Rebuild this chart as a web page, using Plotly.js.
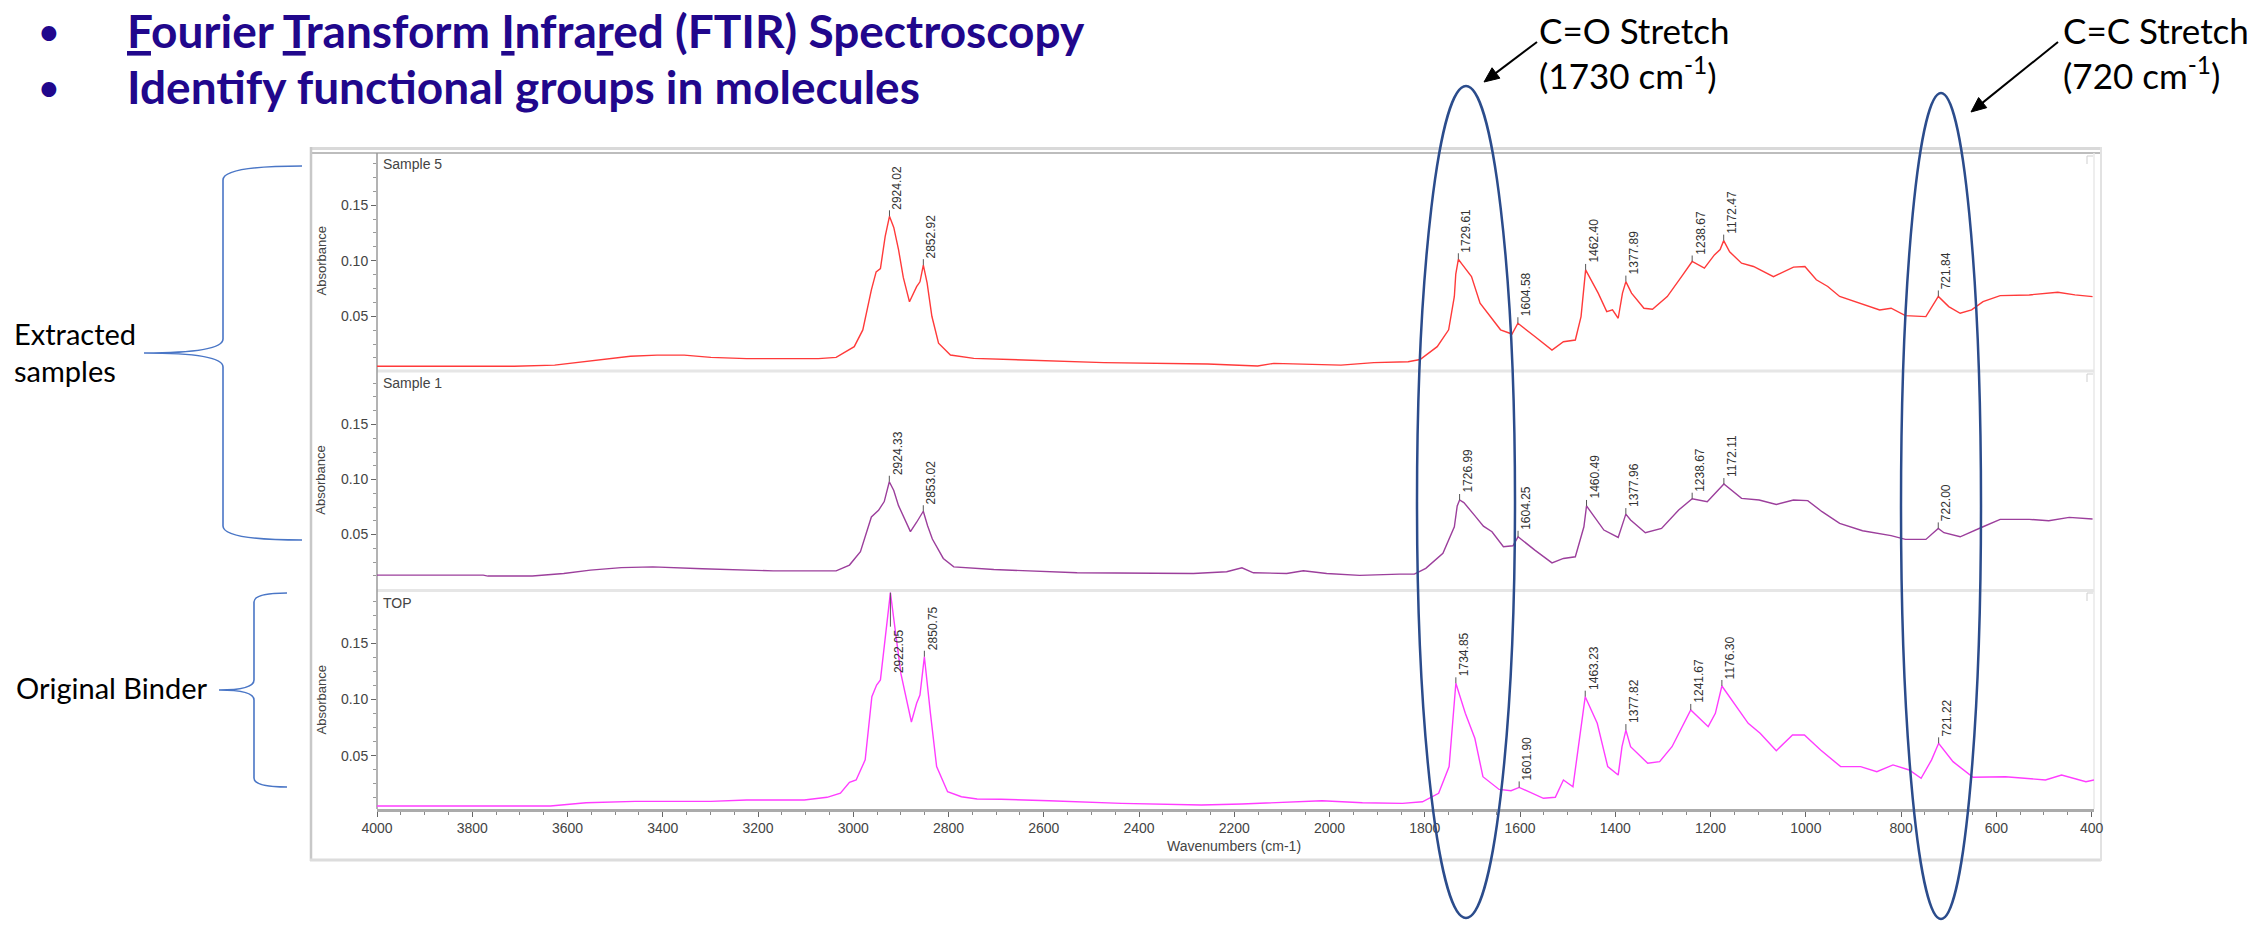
<!DOCTYPE html>
<html><head><meta charset="utf-8">
<script src="https://cdn.plot.ly/plotly-3.0.1.min.js"></script>
<style>html,body{margin:0;padding:0;background:#fff;} #chart{width:2259px;height:925px;}</style>
</head><body><div id="chart"></div>
<script>
// ---------------- DATA ----------------
const sample5Name = 'Sample 5';
const sample5Wn = [
 4000,3800,3712,3627,3552,3468,3412,3355,3299,3224,
 3073,3036,2998,2980,2962,2952,2943,2933,2924.02,2915,
 2905,2895,2882,2867,2860,2852.92,2845,2835,2821,2796,
 2747,2621,2474,2256,2151,2117,2046,1976,1907,1835,
 1810,1774,1750,1738,1735,1729.61,1722,1712,1702,1684,
 1665,1641,1617,1604.58,1569,1533,1509,1484,1472,1462.40,
 1436,1418,1406,1394,1385,1377.89,1366,1340,1322,1291,
 1261,1238.67,1213,1192,1180,1172.47,1160,1135,1110,1068,
 1026,1002,978,954,929,893,845,821,791,748,
 721.84,700,676,652,628,592,531,471,435,398];
const sample5Abs = [
 0.0050,0.0050,0.0050,0.0060,0.0100,0.0140,0.0150,0.0150,0.0130,0.0118,
 0.0118,0.0130,0.0226,0.0377,0.0737,0.0900,0.0930,0.1220,0.1400,0.1300,
 0.1100,0.0850,0.0630,0.0767,0.0810,0.0960,0.0800,0.0500,0.0257,0.0151,
 0.0121,0.0106,0.0082,0.0070,0.0052,0.0076,0.0067,0.0060,0.0082,0.0090,
 0.0110,0.0226,0.0378,0.0678,0.0880,0.1013,0.0970,0.0910,0.0857,0.0617,
 0.0512,0.0378,0.0340,0.0437,0.0317,0.0196,0.0270,0.0286,0.0497,0.0917,
 0.0708,0.0542,0.0557,0.0482,0.0708,0.0812,0.0708,0.0572,0.0563,0.0677,
 0.0857,0.0993,0.0933,0.1052,0.1100,0.1181,0.1080,0.0978,0.0948,0.0857,
 0.0942,0.0948,0.0828,0.0768,0.0678,0.0624,0.0557,0.0572,0.0506,0.0497,
 0.0678,0.0587,0.0527,0.0557,0.0632,0.0686,0.0692,0.0716,0.0692,0.0677];
const sample5Peaks = ['2924.02','2852.92','1729.61','1604.58','1462.40','1377.89','1238.67','1172.47','721.84'];

const sample1Name = 'Sample 1';
const sample1Wn = [
 4000,3777,3767,3674,3608,3552,3487,3421,3317,3252,
 3168,3036,3008,2985,2962,2947,2935,2924.33,2915,2905,
 2880,2867,2853.02,2844,2834,2811,2789,2705,2530,2286,
 2216,2184,2160,2090,2055,2006,1937,1853,1822,1798,
 1762,1738,1732,1726.99,1718,1696,1677,1659,1635,1615,
 1604.25,1569,1533,1509,1484,1466,1460.49,1424,1394,1377.96,
 1368,1337,1303,1267,1238.67,1207,1172.11,1135,1098,1062,
 1026,996,966,929,881,821,791,748,722.00,710,
 676,628,592,531,490,447,398];
const sample1Abs = [
 0.0132,0.0132,0.0123,0.0123,0.0147,0.0177,0.0200,0.0207,0.0190,0.0180,
 0.0170,0.0170,0.0223,0.0344,0.0660,0.0720,0.0800,0.0980,0.0900,0.0763,
 0.0527,0.0612,0.0712,0.0580,0.0460,0.0283,0.0207,0.0183,0.0153,0.0147,
 0.0162,0.0198,0.0153,0.0147,0.0171,0.0147,0.0129,0.0141,0.0141,0.0193,
 0.0329,0.0571,0.0760,0.0814,0.0790,0.0677,0.0577,0.0526,0.0389,0.0398,
 0.0480,0.0359,0.0243,0.0283,0.0298,0.0571,0.0760,0.0541,0.0474,0.0686,
 0.0632,0.0517,0.0556,0.0723,0.0826,0.0798,0.0959,0.0829,0.0814,0.0774,
 0.0814,0.0808,0.0708,0.0602,0.0535,0.0490,0.0456,0.0456,0.0556,0.0517,
 0.0480,0.0571,0.0638,0.0638,0.0626,0.0656,0.0641];
const sample1Peaks = ['2924.33','2853.02','1726.99','1604.25','1460.49','1377.96','1238.67','1172.11','722.00'];

const topName = 'TOP';
const topWn = [
 4000,3636,3561,3458,3299,3224,3103,3055,3027,3008,
 2994,2975,2961,2951,2943,2933,2922.05,2912,2900,2878,
 2867,2860,2850.75,2838,2825,2802,2773,2740,2690,2589,
 2437,2269,2184,2016,1931,1847,1805,1771,1749,1734.85,
 1715,1695,1678,1644,1619,1601.90,1551,1526,1509,1489,
 1472,1463.23,1438,1416,1394,1386,1377.82,1368,1332,1307,
 1281,1256,1241.67,1205,1190,1176.30,1146,1121,1096,1062,
 1028,1003,969,927,885,851,817,783,758,736,
 721.22,691,649,581,497,463,412,395];
const topAbs = [
 0.0053,0.0053,0.0082,0.0094,0.0094,0.0106,0.0106,0.0130,0.0166,0.0263,
 0.0284,0.0463,0.1025,0.1129,0.1174,0.1530,0.1950,0.1619,0.1230,0.0800,
 0.0966,0.1040,0.1380,0.0877,0.0403,0.0180,0.0135,0.0115,0.0113,0.0099,
 0.0076,0.0062,0.0070,0.0099,0.0082,0.0076,0.0090,0.0165,0.0403,0.1144,
 0.0877,0.0655,0.0313,0.0200,0.0189,0.0218,0.0121,0.0130,0.0284,0.0224,
 0.0728,0.1025,0.0788,0.0403,0.0328,0.0580,0.0728,0.0580,0.0433,0.0447,
 0.0580,0.0788,0.0907,0.0758,0.0877,0.1120,0.0937,0.0788,0.0699,0.0545,
 0.0684,0.0684,0.0551,0.0403,0.0403,0.0358,0.0418,0.0373,0.0299,0.0463,
 0.0610,0.0447,0.0308,0.0313,0.0284,0.0328,0.0269,0.0284];
const topPeaks = ['2922.05','2850.75','1734.85','1601.90','1463.23','1377.82','1241.67','1176.30','721.22'];

const xTitle = 'Wavenumbers (cm-1)';
const yTitle = 'Absorbance';
const yTickVals = [0.05, 0.10, 0.15];

// ---------------- LAYOUT GEOMETRY ----------------
const W = 2259, H = 925, L = 377, R = 2094, T = 153, B = 809;
const PX = x => (x - L) / (R - L);
const PY = y => (B - y) / (B - T);

const narrow = 'Liberation Sans Narrow, Arial Narrow, Liberation Sans, Arial, sans-serif';
const sans = 'Liberation Sans, Arial, sans-serif';
const navy = '#21078c';

function yAxis(domain, range) {
  return {
    domain: domain, range: range, anchor: 'x', showgrid: false, zeroline: false, showline: false,
    tickmode: 'array', tickvals: yTickVals, tickformat: '.2f',
    ticks: 'outside', ticklen: 5, tickwidth: 1, tickcolor: '#666',
    tickfont: {family: narrow, size: 14, color: '#444'},
    minor: {tickmode: 'linear', tick0: 0, dtick: 0.0125, ticks: 'outside', ticklen: 3, tickcolor: '#999', showgrid: false},
    fixedrange: true
  };
}

const panels = [
  {name: sample5Name, wn: sample5Wn, abs: sample5Abs, peaks: sample5Peaks, ax: 'y3', color: '#ff3a3a', top: 153, bottom: 370},
  {name: sample1Name, wn: sample1Wn, abs: sample1Abs, peaks: sample1Peaks, ax: 'y2', color: '#9c3f9c', top: 372, bottom: 589.5},
  {name: topName, wn: topWn, abs: topAbs, peaks: topPeaks, ax: 'y', color: '#ff3cff', top: 592, bottom: 809}
];

const traces = panels.map(p => ({
  type: 'scatter', mode: 'lines', x: p.wn, y: p.abs, yaxis: p.ax, xaxis: 'x',
  name: p.name, line: {color: p.color, width: 1.4}, hoverinfo: 'skip'
}));

const annotations = [];
const shapes = [];

// peak labels + marker ticks
panels.forEach(p => {
  p.peaks.forEach(lbl => {
    const w = Number(lbl);
    const i = p.wn.indexOf(w);
    const v = p.abs[i];
    const below = (p.ax === 'y' && lbl === '2922.05');
    shapes.push({type: 'line', xref: 'x', yref: p.ax, ysizemode: 'pixel', yanchor: v,
      x0: w, x1: w, y0: 0, y1: below ? -34 : 6, line: {color: '#555', width: 1}});
    annotations.push({x: w, y: v, xref: 'x', yref: p.ax, text: lbl, textangle: -90, showarrow: false,
      xanchor: 'center', yanchor: below ? 'top' : 'bottom', xshift: 8, yshift: below ? -34 : 5,
      font: {family: sans, size: 12, color: '#333'}});
  });
  // panel name
  annotations.push({x: PX(381), y: PY(p.top + 11), xref: 'paper', yref: 'paper', text: p.name, showarrow: false,
    xanchor: 'left', yanchor: 'middle', font: {family: narrow, size: 14, color: '#444'}});
  // y title
  annotations.push({x: PX(321), y: PY((p.top + p.bottom) / 2), xref: 'paper', yref: 'paper', text: yTitle, showarrow: false,
    textangle: -90, xanchor: 'center', yanchor: 'middle', font: {family: sans, size: 13, color: '#444'}});
});

// x title
annotations.push({x: PX(1234), y: PY(846), xref: 'paper', yref: 'paper', text: xTitle, showarrow: false,
  xanchor: 'center', yanchor: 'middle', font: {family: narrow, size: 14, color: '#444'}});

// slide texts
const U = s => '<span style="text-decoration:underline">' + s + '</span>';
const slideText = [
  {x: 49, y: 31, t: '•', size: 34, anchor: 'center', bold: true, color: navy},
  {x: 49, y: 86, t: '•', size: 34, anchor: 'center', bold: true, color: navy},
  {x: 125, y: 31, t: U('F') + 'ourier ' + U('T') + 'ransform ' + U('I') + 'nfra' + U('r') + 'ed (FTIR) Spectroscopy', size: 46, anchor: 'left', bold: true, color: navy},
  {x: 125, y: 86, t: 'Identify functional groups in molecules', size: 46, anchor: 'left', bold: true, color: navy},
  {x: 1537, y: 30, t: 'C=O Stretch', size: 35, anchor: 'left', color: '#000'},
  {x: 1537, y: 73, t: '(1730 cm<sup>-1</sup>)', size: 35, anchor: 'left', color: '#000'},
  {x: 2061, y: 30, t: 'C=C Stretch', size: 35, anchor: 'left', color: '#000'},
  {x: 2061, y: 73, t: '(720 cm<sup>-1</sup>)', size: 35, anchor: 'left', color: '#000'},
  {x: 12, y: 333, t: 'Extracted', size: 29, anchor: 'left', color: '#000'},
  {x: 12, y: 370, t: 'samples', size: 29, anchor: 'left', color: '#000'},
  {x: 14, y: 687, t: 'Original Binder', size: 29, anchor: 'left', color: '#000'}
];
slideText.forEach(s => annotations.push({x: PX(s.x), y: PY(s.y), xref: 'paper', yref: 'paper', text: s.t,
  showarrow: false, xanchor: s.anchor, yanchor: 'middle',
  font: {family: 'Lato, Open Sans, sans-serif', size: s.size, color: s.color, weight: s.bold ? 700 : 400}}));

// arrows drawn as shapes: [headX, headY, tailX, tailY] in page pixels
[[1484, 82, 1537, 42], [1971, 112, 2058, 42]].forEach(a => {
  const dx = a[0] - a[2], dy = a[1] - a[3], len = Math.hypot(dx, dy);
  const ux = dx / len, uy = dy / len, nx = -uy, ny = ux;
  const hl = 15, hw = 6.5;
  const bx = a[0] - ux * hl, by = a[1] - uy * hl;
  shapes.push({type: 'line', xref: 'paper', yref: 'paper', x0: PX(a[2]), y0: PY(a[3]), x1: PX(bx + ux * 2), y1: PY(by + uy * 2),
    line: {color: '#000', width: 2}});
  shapes.push({type: 'path', xref: 'paper', yref: 'paper', fillcolor: '#000', line: {color: '#000', width: 1},
    path: 'M' + PX(a[0]) + ',' + PY(a[1]) + ' L' + PX(bx + nx * hw) + ',' + PY(by + ny * hw) +
      ' L' + PX(bx - nx * hw) + ',' + PY(by - ny * hw) + ' Z'});
});

// frame
function pline(x0, y0, x1, y1, color, width) {
  shapes.push({type: 'line', xref: 'paper', yref: 'paper', x0: PX(x0), y0: PY(y0), x1: PX(x1), y1: PY(y1),
    line: {color: color, width: width}, layer: 'below'});
}
pline(310, 148.5, 2101, 148.5, '#d9d9d9', 3);
pline(310, 153, 2101, 153, '#bdbdbd', 2);
pline(311, 147, 311, 861, '#c8c8c8', 2.5);
pline(310, 860, 2101, 860, '#dcdcdc', 3);
pline(2101, 147, 2101, 861, '#e2e2e2', 2);
pline(2094, 153, 2094, 809, '#e9e9e9', 1.5);
pline(377, 371, 2094, 371, '#e6e6e6', 3);
pline(377, 590.5, 2094, 590.5, '#e6e6e6', 3);
pline(377, 153, 377, 809, '#9a9a9a', 1.5);
[156, 374, 593].forEach(y => {
  shapes.push({type: 'path', xref: 'paper', yref: 'paper', layer: 'below',
    path: 'M' + PX(2093) + ',' + PY(y) + ' L' + PX(2087) + ',' + PY(y) + ' L' + PX(2087) + ',' + PY(y + 8),
    line: {color: '#cfcfcf', width: 1}});
});

// ellipses
[[1417, 86, 1515, 918], [1901, 93, 1981, 919]].forEach(e => shapes.push({
  type: 'circle', xref: 'paper', yref: 'paper', x0: PX(e[0]), y0: PY(e[3]), x1: PX(e[2]), y1: PY(e[1]),
  line: {color: '#2b4c8c', width: 2.5}}));

// braces
function ppath(cmds) {
  return cmds.map(c => c[0] + c.slice(1).reduce((acc, v, k) => {
    if (k % 2 === 0) acc.push(PX(v).toFixed(5)); else acc[acc.length - 1] += ',' + PY(v).toFixed(5);
    return acc;
  }, []).join(' ')).join(' ');
}
const brace1 = [['M', 302, 166], ['Q', 223, 166, 223, 180], ['L', 223, 339], ['Q', 223, 353, 144, 353],
  ['Q', 223, 353, 223, 367], ['L', 223, 526], ['Q', 223, 540, 302, 540]];
const brace2 = [['M', 287, 593], ['Q', 254, 593, 254, 602], ['L', 254, 680], ['Q', 254, 690, 219, 690],
  ['Q', 254, 690, 254, 700], ['L', 254, 778], ['Q', 254, 787, 287, 787]];
[brace1, brace2].forEach(b => shapes.push({type: 'path', xref: 'paper', yref: 'paper', path: ppath(b),
  line: {color: '#4a76c6', width: 1.6}}));

const layout = {
  width: W, height: H, margin: {l: L, r: W - R, t: T, b: H - B, pad: 0},
  paper_bgcolor: '#fff', plot_bgcolor: '#fff', showlegend: false,
  xaxis: {domain: [0, 1], range: [4000, 395], anchor: 'y', showgrid: false, zeroline: false,
    showline: true, linecolor: '#ababab', linewidth: 2.5,
    tickmode: 'linear', tick0: 0, dtick: 200, ticks: 'outside', ticklen: 5, tickwidth: 1, tickcolor: '#666',
    tickfont: {family: narrow, size: 14, color: '#444'},
    minor: {tickmode: 'linear', tick0: 0, dtick: 50, ticks: 'outside', ticklen: 3, tickcolor: '#888'},
    fixedrange: true},
  yaxis: yAxis([0, PY(592)], [0.0026, 0.1956]),
  yaxis2: yAxis([PY(589.5), PY(372)], [0.0001, 0.1977]),
  yaxis3: yAxis([PY(370), 1], [0.0016, 0.197]),
  annotations: annotations, shapes: shapes
};

Plotly.newPlot('chart', traces, layout, {displayModeBar: false, staticPlot: true}).then(gd => {
  // drop empty placeholder text nodes that Plotly leaves for unused axis titles
  gd.querySelectorAll('text').forEach(t => { if (!t.textContent.trim()) t.remove(); });
});
</script>
</body></html>
